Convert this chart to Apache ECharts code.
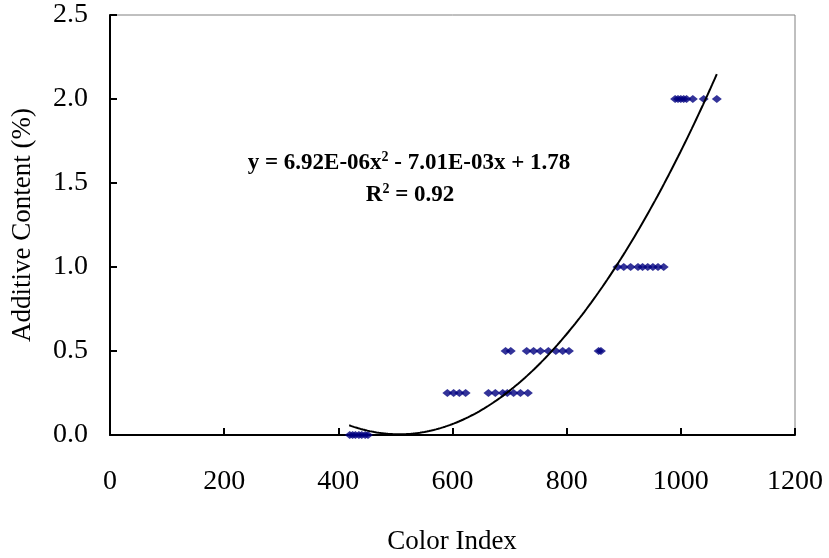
<!DOCTYPE html>
<html>
<head>
<meta charset="utf-8">
<script src="https://cdn.jsdelivr.net/npm/echarts@6/dist/echarts.min.js"></script>
<style>
  html, body { margin: 0; padding: 0; background: #fff; }
  #chart { width: 829px; height: 558px; }
</style>
</head>
<body>
<div id="chart"></div>
<script>
// color index values of each measured sample, grouped by additive level
var level0 = [420, 425, 430, 436, 441, 447, 452];
var level025 = [591, 602, 612, 623, 663, 675, 688, 696, 707, 719, 732];
var level05 = [693, 702, 730, 742, 754, 768, 781, 793, 804, 856, 860];
var level1 = [889, 900, 912, 925, 933, 942, 951, 960, 970];
var level2 = [990, 995, 1000, 1005, 1010, 1021, 1040, 1063];
var levels = [0, 0.25, 0.5, 1.0, 2.0];

// poly trendline printed on the chart
var coef = [6.92e-6, -7.01e-3, 1.78];
var trendRange = [419, 1063];

var xTicks = [0, 200, 400, 600, 800, 1000, 1200];
var yTicks = [0.0, 0.5, 1.0, 1.5, 2.0, 2.5];

var font = '"Liberation Serif", "Times New Roman", serif';

var points = [];
[level0, level025, level05, level1, level2].forEach(function (row, i) {
  row.forEach(function (x) { points.push([x, levels[i]]); });
});

var trend = [];
for (var x = trendRange[0]; x <= trendRange[1]; x += 4) {
  trend.push([x, coef[0] * x * x + coef[1] * x + coef[2]]);
}
trend.push([trendRange[1], coef[0] * trendRange[1] * trendRange[1] + coef[1] * trendRange[1] + coef[2]]);

var eqRich = {
  b: { fontFamily: font, fontSize: 23, fontWeight: 'bold', color: '#000', lineHeight: 26 },
  s: { fontFamily: font, fontSize: 14, fontWeight: 'bold', color: '#000', lineHeight: 14, verticalAlign: 'top' }
};

var chart = echarts.init(document.getElementById('chart'));
chart.setOption({
  animation: false,
  backgroundColor: '#fff',
  grid: {
    left: 110, right: 34, top: 15, bottom: 123,
    show: true, borderColor: '#808080', borderWidth: 1
  },
  xAxis: {
    type: 'value',
    min: xTicks[0], max: xTicks[xTicks.length - 1], interval: 200,
    axisLine: { show: true, lineStyle: { color: '#000', width: 2 } },
    axisTick: { show: true, inside: true, length: 7, lineStyle: { color: '#000', width: 2 } },
    axisLabel: {
      color: '#000', fontFamily: font, fontSize: 28, margin: 33,
      formatter: function (v) { return String(v); }
    },
    splitLine: { show: false }
  },
  yAxis: {
    type: 'value',
    min: yTicks[0], max: yTicks[yTicks.length - 1], interval: 0.5,
    axisLine: { show: true, lineStyle: { color: '#000', width: 2 } },
    axisTick: { show: true, inside: true, length: 7, lineStyle: { color: '#000', width: 2 } },
    axisLabel: {
      color: '#000', fontFamily: font, fontSize: 28, margin: 22,
      formatter: function (v) { return v.toFixed(1); }
    },
    splitLine: { show: false }
  },
  graphic: [
    {
      type: 'text', x: 452, y: 542,
      style: {
        text: 'Color Index', fontFamily: font, fontSize: 27, fill: '#000',
        align: 'center', verticalAlign: 'middle'
      }
    },
    {
      type: 'text', x: 23, y: 225, rotation: Math.PI / 2,
      style: {
        text: 'Additive Content (%)', fontFamily: font, fontSize: 27, fill: '#000',
        align: 'center', verticalAlign: 'middle'
      }
    },
    {
      type: 'text', x: 409, y: 163,
      style: {
        text: '{b|y = 6.92E-06x}{s|2}{b| - 7.01E-03x + 1.78}',
        align: 'center', verticalAlign: 'middle', rich: eqRich
      }
    },
    {
      type: 'text', x: 410, y: 195,
      style: {
        text: '{b|R}{s|2}{b| = 0.92}',
        align: 'center', verticalAlign: 'middle', rich: eqRich
      }
    }
  ],
  series: [
    {
      type: 'scatter',
      data: points,
      symbol: 'diamond',
      symbolSize: [10, 8],
      itemStyle: { color: '#000080' },
      z: 3
    },
    {
      type: 'line',
      data: trend,
      showSymbol: false,
      smooth: false,
      lineStyle: { color: '#000', width: 2 },
      z: 4
    }
  ]
});
</script>
</body>
</html>
